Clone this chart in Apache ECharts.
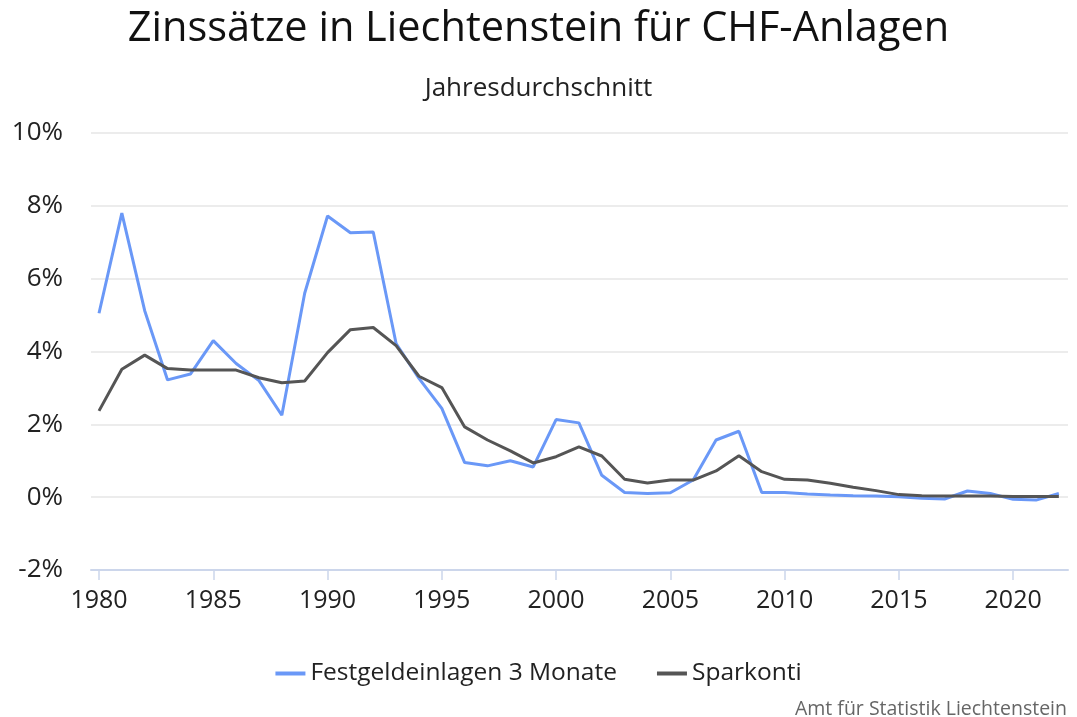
<!DOCTYPE html>
<html>
<head>
<meta charset="utf-8">
<script src="https://cdn.jsdelivr.net/npm/echarts@6/dist/echarts.min.js"></script>
<style>
  html, body { margin: 0; padding: 0; background: #fff; }
  #chart { width: 1077px; height: 717px; }
</style>
</head>
<body>
<div id="chart"></div>
<script>
var years = [];
for (var y = 1980; y <= 2022; y++) years.push(y);

// Festgeldeinlagen 3 Monate, % p.a.
var festgeld = [
    5.05, 7.80, 5.12, 3.22, 3.38, 4.30, 3.67, 3.20, 2.25, 5.60,
    7.72, 7.26, 7.28, 4.22, 3.26, 2.44, 0.95, 0.86, 1.00, 0.83,
    2.13, 2.04, 0.60, 0.13, 0.10, 0.12, 0.47, 1.57, 1.81, 0.13,
    0.13, 0.09, 0.06, 0.04, 0.03, 0.01, -0.03, -0.05, 0.17, 0.10,
    -0.06, -0.08, 0.10
];

// Sparkonti, % p.a.
var sparkonti = [
    2.37, 3.51, 3.90, 3.53, 3.49, 3.49, 3.49, 3.28, 3.14, 3.19,
    3.97, 4.60, 4.66, 4.16, 3.32, 3.01, 1.93, 1.57, 1.27, 0.94,
    1.11, 1.38, 1.13, 0.49, 0.39, 0.47, 0.47, 0.72, 1.14, 0.70,
    0.49, 0.47, 0.38, 0.27, 0.18, 0.07, 0.04, 0.03, 0.03, 0.03,
    0.02, 0.02, 0.02
];

var yearTicks = [1980, 1985, 1990, 1995, 2000, 2005, 2010, 2015, 2020];

var pairs = function(xs, vs) {
    return xs.map(function(x, i) { return [x, vs[i]]; });
};

var font = 'Open Sans';
var chart = echarts.init(document.getElementById('chart'));

var option = {
    animation: false,
    textStyle: { fontFamily: font },
    title: [{
        text: 'Zinssätze in Liechtenstein für CHF-Anlagen',
        left: 'center',
        top: 3,
        textStyle: { fontFamily: font, fontSize: 41.5, fontWeight: 'normal', color: '#111' }
    }, {
        text: 'Jahresdurchschnitt',
        left: 'center',
        top: 71,
        textStyle: { fontFamily: font, fontSize: 26, fontWeight: 'normal', color: '#222' }
    }, {
        text: 'Amt für Statistik Liechtenstein',
        right: 5,
        top: 694,
        textStyle: { fontFamily: font, fontSize: 19.5, fontWeight: 'normal', color: '#666' }
    }],
    legend: {
        top: 656,
        left: 'center',
        itemWidth: 30,
        itemHeight: 4,
        itemGap: 40,
        icon: 'rect',
        textStyle: { fontFamily: font, fontSize: 24.5, color: '#222' },
        data: ['Festgeldeinlagen 3 Monate', 'Sparkonti']
    },
    grid: { left: 91, right: 9, top: 133, bottom: 147 },
    xAxis: {
        type: 'value',
        min: 1979.65,
        max: 2022.4,
        splitLine: { show: false },
        axisLine: { show: true, onZero: false, lineStyle: { color: '#ccd6eb', width: 2 } },
        axisTick: {
            show: true,
            length: 10,
            customValues: yearTicks,
            lineStyle: { color: '#ccd6eb', width: 1.5 }
        },
        axisLabel: {
            customValues: yearTicks,
            fontFamily: font,
            fontSize: 25,
            color: '#222',
            margin: 18,
            formatter: function(v) { return String(v); }
        }
    },
    yAxis: {
        type: 'value',
        min: -2,
        max: 10,
        interval: 2,
        axisLine: { show: false },
        axisTick: { show: false },
        splitLine: { lineStyle: { color: '#e6e6e6', width: 1.5 } },
        axisLabel: {
            fontFamily: font,
            fontSize: 26,
            color: '#222',
            margin: 28,
            formatter: '{value}%'
        }
    },
    series: [{
        name: 'Festgeldeinlagen 3 Monate',
        type: 'line',
        data: pairs(years, festgeld),
        showSymbol: false,
        symbol: 'none',
        lineStyle: { color: '#6a98f7', width: 3 },
        itemStyle: { color: '#6a98f7' }
    }, {
        name: 'Sparkonti',
        type: 'line',
        data: pairs(years, sparkonti),
        showSymbol: false,
        symbol: 'none',
        lineStyle: { color: '#555555', width: 3 },
        itemStyle: { color: '#555555' }
    }]
};

chart.setOption(option);
</script>
</body>
</html>
